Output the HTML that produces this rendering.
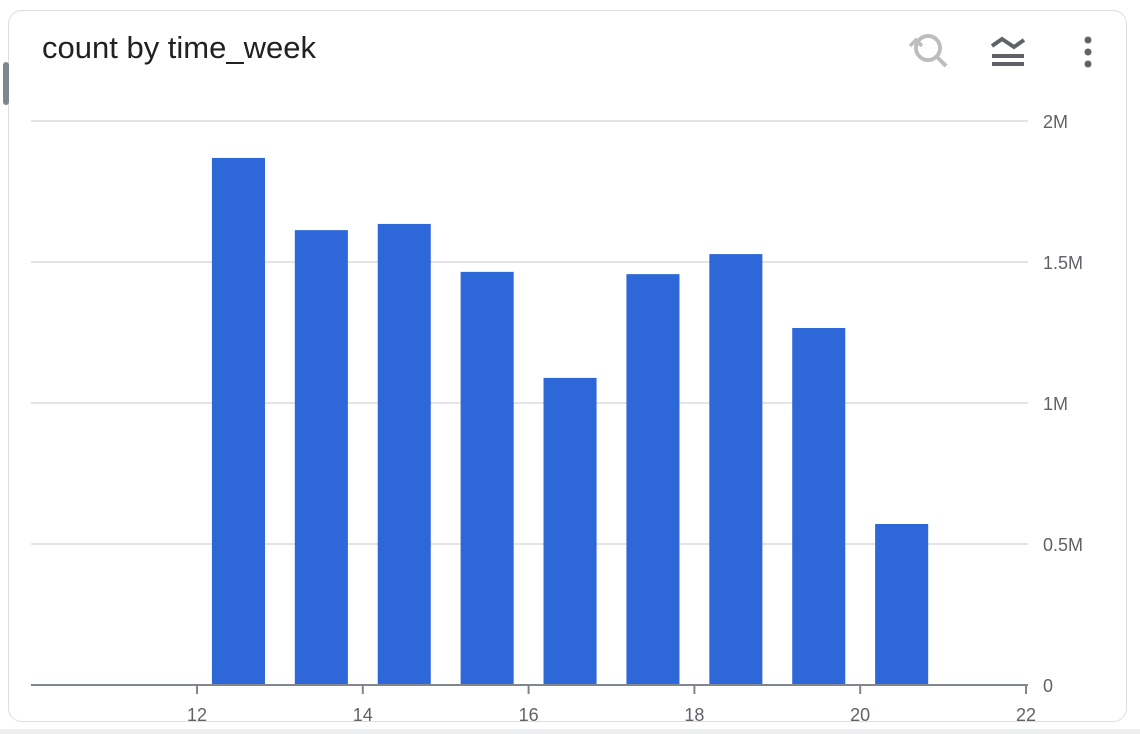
<!DOCTYPE html>
<html><head><meta charset="utf-8"><style>
html,body{margin:0;padding:0;background:#fff;width:1140px;height:734px;overflow:hidden;font-family:"Liberation Sans",sans-serif}
#card{position:absolute;left:8px;top:10px;width:1119px;height:712px;border:1.5px solid #dcdde0;border-radius:14px;box-sizing:border-box}
#band{position:absolute;left:0;top:729px;width:1140px;height:5px;background:#eceef0}
#handle{position:absolute;left:3px;top:62px;width:6px;height:43px;background:#80868b;border-radius:3px}
#title{position:absolute;left:42px;top:30px;font-size:31px;color:#202124}
</style></head><body>
<div id="band"></div>
<div id="card"></div>
<div id="handle"></div>
<div id="title">count by time_week</div>
<svg width="1140" height="734" style="position:absolute;left:0;top:0">
 <g stroke="#bdbdbd" stroke-width="4" fill="none">
  <circle cx="928" cy="48" r="12"/><line x1="937" y1="57" x2="946" y2="66"/>
  <path d="M910 46 l6 -6 l6 6" stroke-width="3.5"/>
 </g>
 <g fill="#5f6368">
  <polyline points="992,46 1002,39 1014,47 1024,40" stroke="#5f6368" stroke-width="4" fill="none"/>
  <rect x="992" y="54" width="32" height="4"/><rect x="992" y="62" width="32" height="4"/>
 </g>
 <g fill="#5f6368">
  <circle cx="1088" cy="40" r="3.5"/><circle cx="1088" cy="52" r="3.5"/><circle cx="1088" cy="64" r="3.5"/>
 </g>
 <g id="chart"></g>
</svg>
<script>
const weeks=[12.5,13.5,14.5,15.5,16.5,17.5,18.5,19.5,20.5];
const counts=[1.869,1.613,1.635,1.465,1.089,1.457,1.528,1.266,0.571];
const yTicks=[0,0.5,1,1.5,2];
const yTickLabels=["0","0.5M","1M","1.5M","2M"];
const xTicks=[12,14,16,18,20,22];
const NS="http://www.w3.org/2000/svg";
const g=document.getElementById('chart');
const X=v=>197+(v-12)*(1026-197)/10;
const Y=v=>685-v*(685-121)/2;
function mk(t,a){const e=document.createElementNS(NS,t);for(const k in a)e.setAttribute(k,a[k]);g.appendChild(e);return e;}
yTicks.forEach((t,i)=>{
 if(t>0){const l=mk('line',{x1:31,x2:1028,y1:Y(t),y2:Y(t),stroke:'#dadce0','stroke-width':1.5});
 
 }
 const tx=mk('text',{x:1043,y:Y(t)+7,'font-size':18,fill:'#5f6368','font-family':'Liberation Sans'});
 tx.textContent=yTickLabels[i];
 
 
});
weeks.forEach((w,i)=>{
 const bw=(1026-197)/10*0.64;
 const r=mk('rect',{x:X(w)-bw/2,y:Y(counts[i]),width:bw,height:Y(0)-Y(counts[i]),fill:'#2d67d8'});
 
 
});
const ax=mk('line',{x1:31,x2:1028,y1:685,y2:685,stroke:'#80868b','stroke-width':2});


xTicks.forEach(t=>{
 const tk=mk('line',{x1:X(t),x2:X(t),y1:685,y2:694,stroke:'#80868b','stroke-width':2});
 
 
 const tx=mk('text',{x:X(t),y:721,'font-size':18,fill:'#5f6368','text-anchor':'middle','font-family':'Liberation Sans'});
 tx.textContent=t;
 
 
});
</script>
</body></html>
